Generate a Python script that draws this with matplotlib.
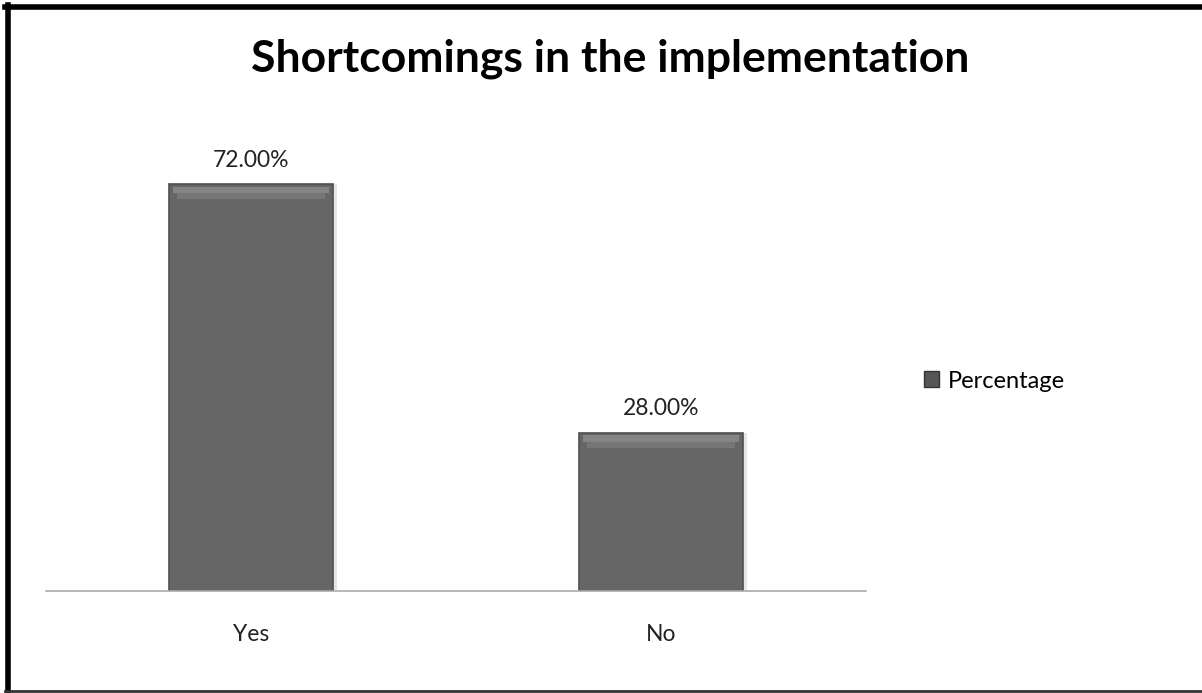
import matplotlib.pyplot as plt
from matplotlib.patches import Rectangle
from matplotlib.lines import Line2D

plt.rcParams['font.family'] = ['Lato', 'DejaVu Sans']

categories = ['Yes', 'No']
percentages = [72.0, 28.0]
series_name = 'Percentage'
title = 'Shortcomings in the implementation'

fig = plt.figure(figsize=(12.02, 6.93), dpi=100)
ax = fig.add_axes([0.0383, 0.1472, 0.682, 0.652])

x = range(len(categories))
# soft shadow behind the bars
ax.bar([i + 0.01 for i in x], percentages, width=0.4, color='#cccccc', alpha=0.5, zorder=1)
bars = ax.bar(x, percentages, width=0.4, color='#666666', edgecolor='#505050', linewidth=1.2,
              zorder=2, label=series_name)
# lighter bevel along the top of each bar
for b in bars:
    ax.add_patch(Rectangle((b.get_x() + 0.01, b.get_height() - 1.6), b.get_width() - 0.02, 1.2,
                           color='#858585', zorder=3, linewidth=0))
    ax.add_patch(Rectangle((b.get_x() + 0.02, b.get_height() - 2.6), b.get_width() - 0.04, 1.0,
                           color='#767676', zorder=3, linewidth=0))

for b, v in zip(bars, percentages):
    ax.text(b.get_x() + b.get_width() / 2, v + 4.3, f'{v:.2f}%', ha='center', va='center',
            fontsize=16.5, color='#222222')

ax.set_xlim(-0.5, 1.5)
ax.set_ylim(0, 80)
ax.set_xticks(list(x))
ax.set_xticklabels(categories, fontsize=16.5, color='#222222')
ax.tick_params(axis='x', length=0, pad=24)
ax.set_yticks([])
for s in ['top', 'right', 'left']:
    ax.spines[s].set_visible(False)
ax.spines['bottom'].set_color('#aaaaaa')
ax.spines['bottom'].set_linewidth(1.2)

fig.text(0.508, 0.915, title, ha='center', va='center', fontsize=32, fontweight='bold', color='black')

fig.legend(handles=[Rectangle((0, 0), 1, 1, facecolor='#555555', edgecolor='#333333')],
           labels=[series_name], loc='center left', bbox_to_anchor=(0.751, 0.45),
           frameon=False, fontsize=17, handlelength=0.65, handleheight=0.65, handletextpad=0.35)

# outer frame (top, left, bottom)
fig.add_artist(Line2D([0.0045, 1], [0.9905, 0.9905], color='black', linewidth=4, transform=fig.transFigure))
fig.add_artist(Line2D([0.0065, 0.0065], [0, 0.993], color='black', linewidth=4, transform=fig.transFigure))
fig.add_artist(Line2D([0.0045, 1], [0.0025, 0.0025], color='#333333', linewidth=2, transform=fig.transFigure))

fig.savefig('out.png', dpi=100)
